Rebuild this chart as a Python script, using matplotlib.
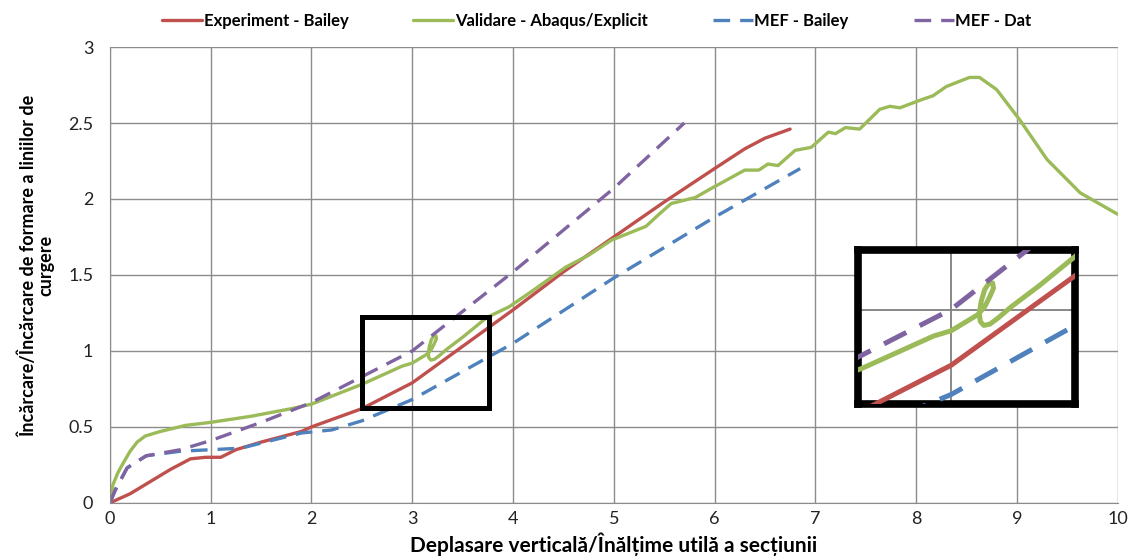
import matplotlib
matplotlib.use("Agg")
import matplotlib.pyplot as plt
from matplotlib.patches import Rectangle

plt.rcParams['font.family'] = ['Lato', 'DejaVu Sans']

# load ratio vs. deflection ratio
exp_x = [0, 0.2, 0.4, 0.6, 0.8, 0.95, 1.1, 1.25, 1.5, 1.9, 2.0, 2.5, 3.0, 3.5, 4.0, 4.5, 5.0, 5.5, 6.0, 6.3, 6.5, 6.75]
exp_y = [0, 0.06, 0.14, 0.22, 0.29, 0.30, 0.30, 0.35, 0.40, 0.47, 0.50, 0.62, 0.79, 1.03, 1.27, 1.52, 1.75, 1.98, 2.20, 2.33, 2.40, 2.46]

val_x = [0, 0.03, 0.08, 0.13, 0.2, 0.27, 0.35, 0.5, 0.75, 1.0, 1.4, 1.8, 2.0, 2.5, 2.9, 3.0, 3.1,
         3.15, 3.19, 3.22, 3.24, 3.235, 3.215, 3.19, 3.17, 3.16, 3.165, 3.185, 3.22, 3.27, 3.34,
         3.5, 3.74, 3.96, 4.16, 4.52, 4.75,
         4.98, 5.32, 5.45, 5.57, 5.81, 5.97, 6.3, 6.44, 6.53, 6.63, 6.8, 6.96, 7.13, 7.2, 7.3, 7.44,
         7.64, 7.74, 7.84, 8.04, 8.17, 8.3, 8.53, 8.63, 8.8, 9.03, 9.3, 9.63, 10.0]
val_y = [0, 0.12, 0.2, 0.26, 0.34, 0.4, 0.44, 0.47, 0.51, 0.53, 0.57, 0.62, 0.65, 0.78, 0.9, 0.92, 0.96,
         0.98, 1.01, 1.05, 1.08, 1.10, 1.10, 1.075, 1.03, 0.985, 0.955, 0.94, 0.945, 0.97, 1.01,
         1.09, 1.22, 1.29, 1.38, 1.55, 1.63,
         1.73, 1.82, 1.90, 1.97, 2.01, 2.07, 2.19, 2.19, 2.23, 2.22, 2.32, 2.34, 2.44, 2.43, 2.47, 2.46,
         2.59, 2.61, 2.60, 2.65, 2.68, 2.74, 2.80, 2.80, 2.72, 2.52, 2.26, 2.04, 1.90]

mefb_x = [0, 0.05, 0.17, 0.36, 0.7, 1.0, 1.3, 1.6, 1.9, 2.2, 2.5, 3.0, 4.0, 5.0, 6.0, 6.85]
mefb_y = [0, 0.08, 0.23, 0.31, 0.34, 0.35, 0.36, 0.41, 0.46, 0.48, 0.54, 0.68, 1.05, 1.48, 1.88, 2.20]

mefd_x = [0, 0.05, 0.17, 0.36, 0.7, 1.0, 1.5, 2.0, 2.5, 3.0, 4.0, 5.0, 5.7]
mefd_y = [0, 0.08, 0.23, 0.31, 0.35, 0.41, 0.53, 0.66, 0.83, 1.0, 1.52, 2.07, 2.5]

series = [
    ("Experiment - Bailey", exp_x, exp_y, "#c0504d", "-"),
    ("Validare - Abaqus/Explicit", val_x, val_y, "#9bbb59", "-"),
    ("MEF - Bailey", mefb_x, mefb_y, "#4f81bd", (0, (5, 3))),
    ("MEF - Dat", mefd_x, mefd_y, "#8064a2", (0, (5, 3))),
]

grid_c = "#8c8c8c"

fig = plt.figure(figsize=(11.3, 5.6), dpi=100)
ax = fig.add_axes([0.0973, 0.102, 0.8917, 0.814])

for name, xs, ys, c, ls in series:
    ax.plot(xs, ys, color=c, lw=2.4, ls=ls, label=name, solid_capstyle='round')

ax.set_xlim(0, 10)
ax.set_ylim(0, 3)
ax.set_xticks(range(0, 11))
ax.set_yticks([0, 0.5, 1, 1.5, 2, 2.5, 3])
ax.set_yticklabels(["0", "0.5", "1", "1.5", "2", "2.5", "3"])
ax.grid(True, color=grid_c, lw=1)
ax.set_axisbelow(True)
for s in ["top", "right"]:
    ax.spines[s].set_visible(False)
for s in ["left", "bottom"]:
    ax.spines[s].set_color(grid_c)
ax.tick_params(length=0, labelsize=13, colors="#222222")
ax.tick_params(axis='y', pad=12)
ax.tick_params(axis='x', pad=6)

ax.set_xlabel("Deplasare verticală/Înălțime utilă a secțiunii", fontsize=15,
              fontweight='bold')
ax.xaxis.set_label_coords(0.5, -0.066)
ax.set_ylabel("Încărcare/Încărcare de formare a liniilor de\ncurgere", fontsize=13,
              fontweight='bold', linespacing=1.0)
ax.yaxis.set_label_coords(-0.055, 0.52)

# marked zoom region
ax.add_patch(Rectangle((2.5, 0.625), 1.26, 0.6, fill=False, ec="black", lw=3.6, zorder=5))

leg = fig.legend(loc="center", bbox_to_anchor=(0.528, 0.962), ncol=4, frameon=False,
                 handlelength=2.4, handletextpad=0.1, columnspacing=3.9,
                 prop={'size': 12, 'weight': 'bold'})

# zoomed detail
ins = fig.add_axes([0.759, 0.279, 0.192, 0.275], facecolor="white", zorder=10)
for name, xs, ys, c, ls in series:
    ins.plot(xs, ys, color=c, lw=3.6, ls=ls, zorder=3)
ins.plot([3, 3], [0, 2], color="#808080", lw=1.3, zorder=2)
ins.plot([2, 4], [1, 1], color="#808080", lw=1.3, zorder=2)
ins.set_xlim(2.47, 3.70)
ins.set_ylim(0.645, 1.225)
ins.set_xticks([])
ins.set_yticks([])
for s in ins.spines.values():
    s.set_linewidth(5.5)
    s.set_color("black")

fig.savefig("out.png", dpi=100)
